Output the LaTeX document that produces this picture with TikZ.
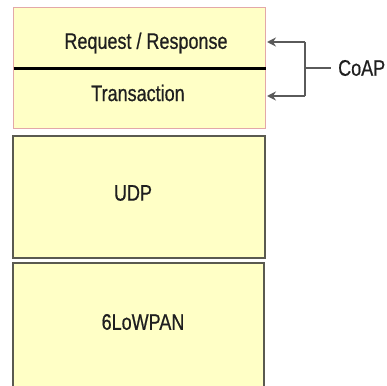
\documentclass[tikz,border=0pt]{standalone}
\usepackage{fontspec}
\setmainfont[FakeStretch=0.8,FakeBold=0.6]{Liberation Sans}
\usetikzlibrary{arrows.meta}
\definecolor{layerfill}{HTML}{FFFFC6}
\definecolor{pinkedge}{HTML}{E3A8A8}
\definecolor{darkedge}{HTML}{5A5A50}
\definecolor{arrowgray}{HTML}{5A5A5A}
\tikzset{
  layer/.style={draw=darkedge, line width=2pt, fill=layerfill},
  label/.style={font=\fontsize{22.5}{26}\selectfont, text=black!88},
  bracket/.style={draw=arrowgray, line width=2.2pt},
}
\begin{document}
\begin{tikzpicture}[x=1pt,y=-1pt]
\useasboundingbox (0,0) rectangle (387,385);
% CoAP block: request/response over transaction
\draw[draw=pinkedge, line width=1.5pt, fill=layerfill] (13.5,7.5) rectangle (265.5,128.5);
\draw[black, line width=2.6pt] (13.5,68.5) -- (265.5,68.5);
\node[label] (req) at (146,43) {Request / Response};
\node[label] (trans) at (138,93) {Transaction};
% Transport and adaptation layers
\draw[layer] (12.5,136) rectangle (264.5,257.5);
\node[label] (udp) at (133,193) {UDP};
\draw[layer] (12.5,263) rectangle (264,392);
\node[label] (lowpan) at (143,322) {6LoWPAN};
% Bracket to the CoAP label
\coordinate (tipA) at (267,42);
\coordinate (tipB) at (267,96);
\coordinate (jA) at (305,42);
\coordinate (jB) at (305,96);
\coordinate (mid) at (305,68);
\node[label, anchor=west, inner xsep=7pt, inner ysep=0pt] (coap) at (331,68) {CoAP};
\draw[bracket, -{Stealth[length=9pt,width=9pt,inset=3pt]}] (jA) -- (tipA);
\draw[bracket, -{Stealth[length=9pt,width=9pt,inset=3pt]}] (jB) -- (tipB);
\draw[bracket] (jA) -- (jB);
\draw[bracket] (mid) -- (coap.west);
\end{tikzpicture}
\end{document}
